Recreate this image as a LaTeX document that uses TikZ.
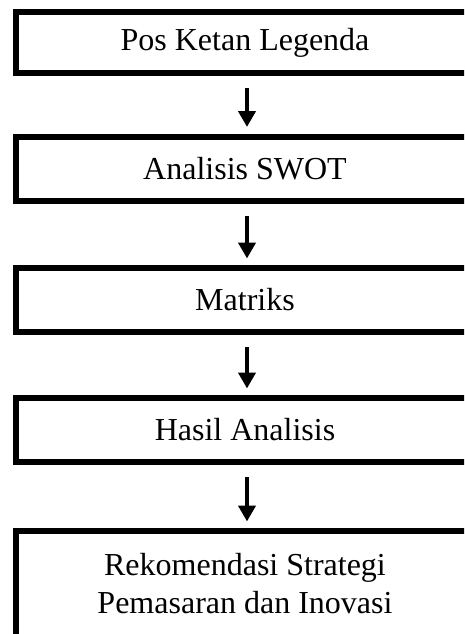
\documentclass[tikz,border=0pt]{standalone}
\usepackage{fontspec}
\setmainfont{Liberation Serif}
\usepackage{tikz}
\usetikzlibrary{arrows.meta}

\begin{document}
\begin{tikzpicture}[x=1pt,y=-1pt,
    box/.style={draw,line width=6pt,minimum width=458pt,inner sep=0pt,
      align=center,font=\fontsize{32}{38}\selectfont},
    flow/.style={->,line width=4pt,shorten <=12pt,shorten >=6.5pt},
    >={Triangle[width=17pt,length=16pt]}]
    \useasboundingbox (0,0) rectangle (464,634);
    \clip (0,0) rectangle (464,634);
    \node[box,minimum height=61pt] (pos) at (245,42.5) {Pos Ketan Legenda};
    \node[box,minimum height=64.5pt] (swot) at (245,168.75) {Analisis SWOT};
    \node[box,minimum height=64pt] (mat) at (245,300) {Matriks};
    \node[box,minimum height=64pt] (hasil) at (245,430) {Hasil Analisis};
    \node[box,minimum height=106pt] (rek) at (245,584) {Rekomendasi Strategi\\Pemasaran dan Inovasi};
    \draw[flow] ([xshift=2pt]pos.south) to ([xshift=2pt]swot.north);
    \draw[flow] ([xshift=2pt]swot.south) to ([xshift=2pt]mat.north);
    \draw[flow] ([xshift=2pt]mat.south) to ([xshift=2pt]hasil.north);
    \draw[flow] ([xshift=2pt]hasil.south) to ([xshift=2pt]rek.north);
  \end{tikzpicture}
\end{document}
